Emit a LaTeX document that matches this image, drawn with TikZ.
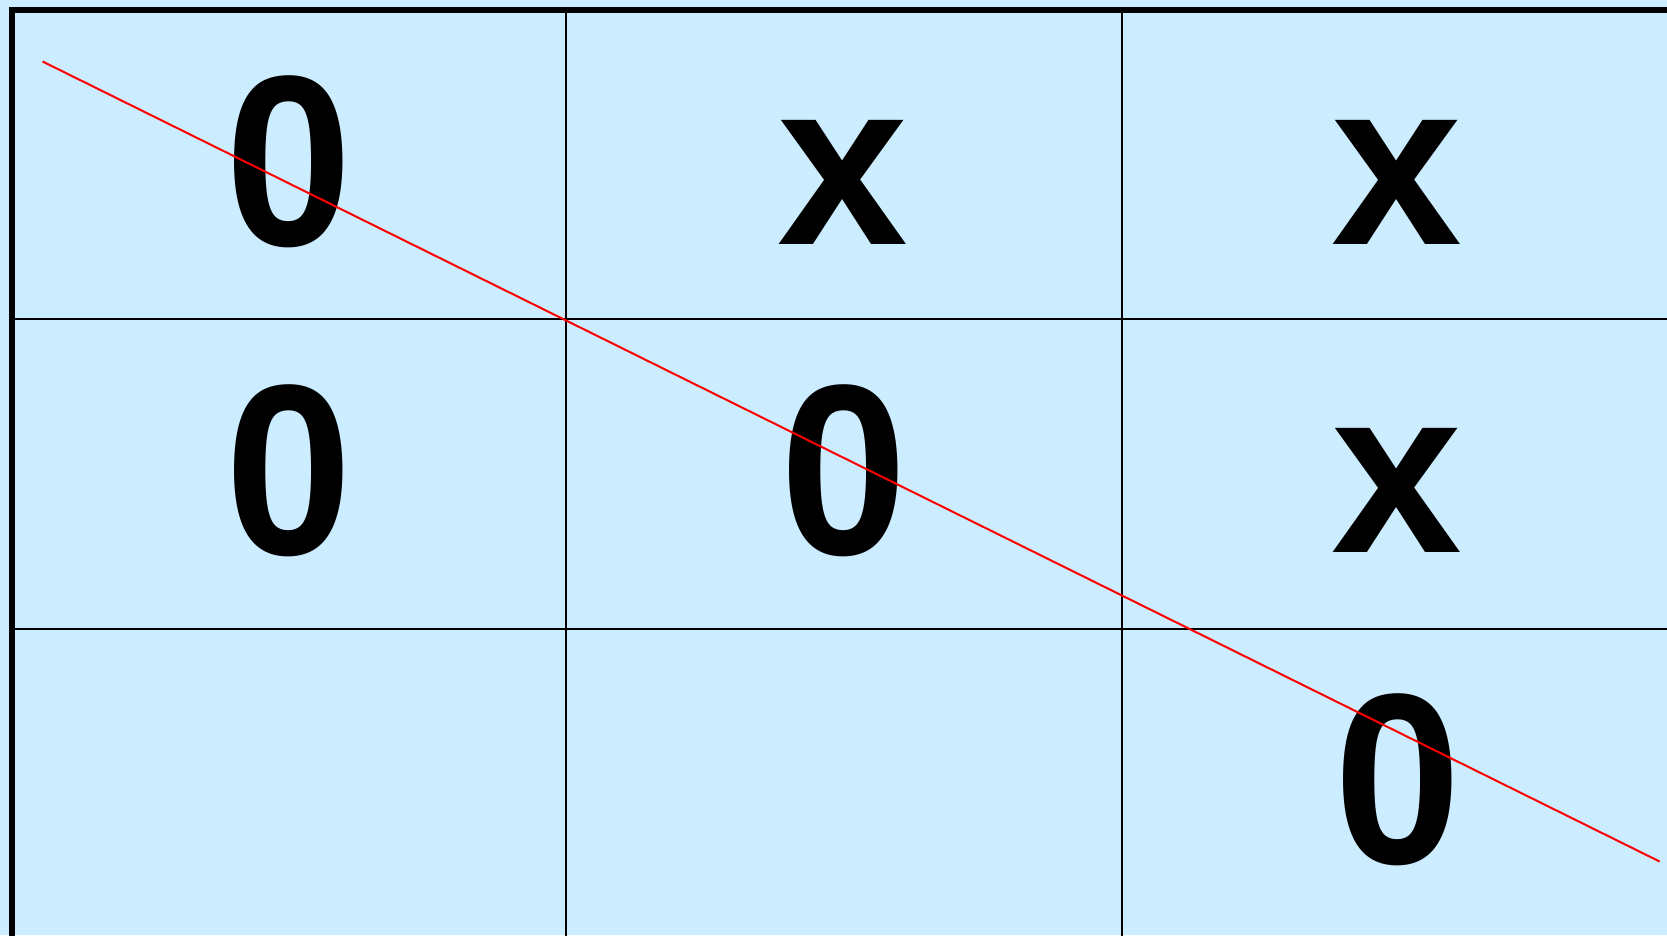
\documentclass[tikz,border=0pt]{standalone}
\usepackage{fontspec}
\usepackage{graphicx}
\setmainfont{Liberation Sans}
\definecolor{bgblue}{HTML}{CCECFF}
\newcommand{\zeromark}{\scalebox{0.97}[1.035]{0}}
\begin{document}
\begin{tikzpicture}[x=1pt,y=-1pt,
  gridline/.style={line width=2.5pt,black},
  cellmark/.style={anchor=base,inner sep=0pt,font=\fontsize{235}{235}\selectfont\bfseries},
  winline/.style={red,line width=2pt}]
\fill[bgblue] (0,0) rectangle (1667,935);
\useasboundingbox (0,0) rectangle (1667,935);
% outer frame (cropped at right and bottom)
\draw[line width=6pt,black] (12,960) -- (12,10) -- (1700,10);
% grid lines
\draw[gridline] (566,10) -- (566,960);
\draw[gridline] (1122,10) -- (1122,960);
\draw[gridline] (12,319) -- (1700,319);
\draw[gridline] (12,629) -- (1700,629);
% marks
\node[cellmark] (c11) at (289,245) {\zeromark};
\node[cellmark] (c12) at (843,244) {x};
\node[cellmark] (c13) at (1397,244) {x};
\node[cellmark] (c21) at (289,554) {\zeromark};
\node[cellmark] (c22) at (844,554) {\zeromark};
\node[cellmark] (c23) at (1397,552) {x};
\node[cellmark] (c33) at (1398,863) {\zeromark};
% winning line
\coordinate (ws) at (42.6,61.5);
\coordinate (we) at (1659.6,861.5);
\draw[winline] (ws) -- (we);
\end{tikzpicture}
\end{document}
